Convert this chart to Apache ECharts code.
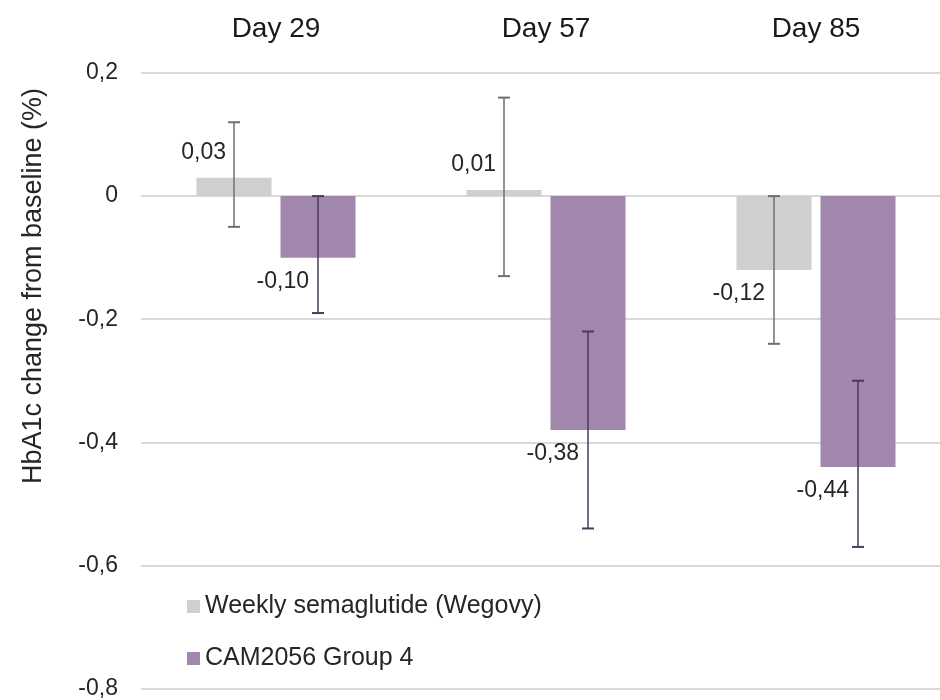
<!DOCTYPE html>
<html>
<head>
<meta charset="utf-8">
<script src="https://cdn.jsdelivr.net/npm/echarts@6/dist/echarts.min.js"></script>
<style>
  html, body { margin: 0; padding: 0; background: #ffffff; overflow: hidden; }
  #chart { width: 951px; height: 700px; }
</style>
</head>
<body>
<div id="chart"></div>
<script>
// ---- data ----
const categories = ['Day 29', 'Day 57', 'Day 85'];
const seriesNames = ['Weekly semaglutide (Wegovy)', 'CAM2056 Group 4'];
const wegovyValues = [0.03, 0.01, -0.12];
const camValues = [-0.10, -0.38, -0.44];
const wegovyLow = [-0.05, -0.13, -0.24];
const wegovyHigh = [0.12, 0.16, 0.00];
const camLow = [-0.19, -0.54, -0.57];
const camHigh = [0.00, -0.22, -0.30];
const yMin = -0.8, yMax = 0.2, yInterval = 0.2;

// ---- style ----
const FONT = '"Liberation Sans", Arial, sans-serif';
const TEXT = '#262626';
const GREY = '#d0cecf';
const PURPLE = '#a287ad';
const GREY_ERR = '#6f6f6f';
const PURPLE_ERR = '#4e3a5a';
const BAR_W = 75;
const BAR_GAP = 9;
const HALF = (BAR_W + BAR_GAP) / 2;

const fmtVal = v => v.toFixed(2).replace('.', ',');
const fmtTick = v => (Math.abs(v) < 1e-9 ? '0' : v.toFixed(1).replace('.', ','));

function errSeries(name, values, lows, highs, side, color) {
  const data = categories.map((c, i) => [i, lows[i], highs[i], values[i]]);
  return {
    type: 'custom',
    name: name + ' error',
    z: 5,
    silent: true,
    data: data,
    encode: { x: 0, y: [1, 2] },
    renderItem: function (params, api) {
      const ci = api.value(0);
      const lo = api.value(1), hi = api.value(2), v = api.value(3);
      const pHi = api.coord([ci, hi]);
      const pLo = api.coord([ci, lo]);
      const pV = api.coord([ci, v]);
      const x = pHi[0] + side * HALF;
      const cap = 6;
      const label = v >= 0
        ? { x: x - 8, y: pV[1] - 25 }
        : { x: x - 9, y: pV[1] + 24 };
      return {
        type: 'group',
        children: [
          { type: 'line', shape: { x1: x, y1: pHi[1], x2: x, y2: pLo[1] },
            style: { stroke: color, lineWidth: 1.5 } },
          { type: 'line', shape: { x1: x - cap, y1: pHi[1], x2: x + cap, y2: pHi[1] },
            style: { stroke: color, lineWidth: 2 } },
          { type: 'line', shape: { x1: x - cap, y1: pLo[1], x2: x + cap, y2: pLo[1] },
            style: { stroke: color, lineWidth: 2 } },
          { type: 'text', x: label.x, y: label.y,
            style: { text: fmtVal(v), fill: TEXT, font: '23px ' + FONT,
                     align: 'right', verticalAlign: 'middle' } }
        ]
      };
    }
  };
}

const chart = echarts.init(document.getElementById('chart'), null, { renderer: 'canvas' });
chart.setOption({
  animation: false,
  backgroundColor: '#ffffff',
  textStyle: { fontFamily: FONT },
  grid: { left: 141, top: 73, right: 0, height: 617, containLabel: false },
  legend: {
    orient: 'vertical',
    left: 187,
    top: 594,
    padding: 0,
    itemWidth: 13,
    itemHeight: 13,
    itemGap: 27,
    icon: 'rect',
    textStyle: { fontSize: 25, color: TEXT, fontFamily: FONT },
    data: seriesNames
  },
  xAxis: {
    type: 'category',
    position: 'top',
    data: categories,
    axisLine: { show: false, onZero: false },
    axisTick: { show: false },
    axisLabel: { fontSize: 28, color: '#1a1a1a', margin: 30, fontFamily: FONT },
    splitLine: { show: false }
  },
  yAxis: {
    type: 'value',
    min: yMin,
    max: yMax,
    interval: yInterval,
    axisLine: { show: false },
    axisTick: { show: false },
    axisLabel: { fontSize: 23, color: TEXT, margin: 23, formatter: fmtTick, fontFamily: FONT },
    splitLine: { lineStyle: { color: '#d9d9d9', width: 2 } }
  },
  graphic: [{
    type: 'text',
    x: 34, y: 286,
    rotation: Math.PI / 2,
    style: { text: 'HbA1c change from baseline (%)', fill: TEXT,
             font: '27px ' + FONT, align: 'center', verticalAlign: 'middle' }
  }],
  series: [
    { type: 'bar', name: seriesNames[0], data: wegovyValues, barWidth: BAR_W,
      barGap: (BAR_GAP / BAR_W * 100) + '%', itemStyle: { color: GREY } },
    { type: 'bar', name: seriesNames[1], data: camValues, barWidth: BAR_W,
      barGap: (BAR_GAP / BAR_W * 100) + '%', itemStyle: { color: PURPLE } },
    errSeries(seriesNames[0], wegovyValues, wegovyLow, wegovyHigh, -1, GREY_ERR),
    errSeries(seriesNames[1], camValues, camLow, camHigh, 1, PURPLE_ERR)
  ]
});
</script>
</body>
</html>
